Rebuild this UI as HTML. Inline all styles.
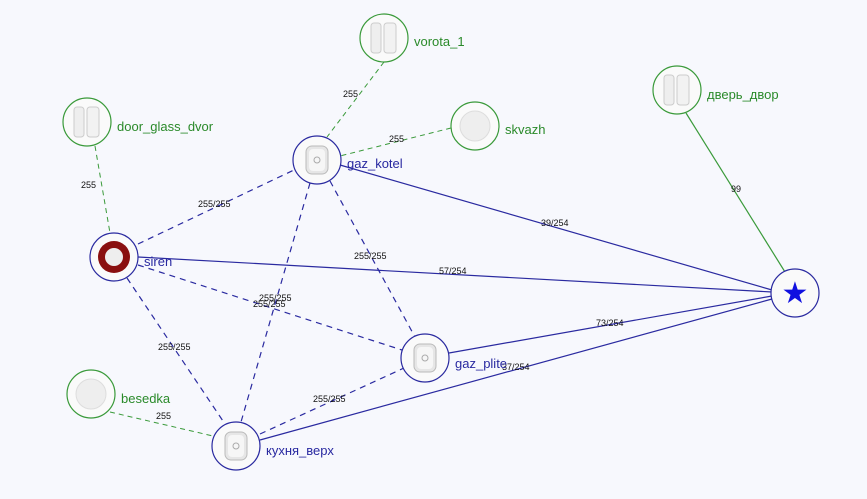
<!DOCTYPE html>
<html><head><meta charset="utf-8"><style>
html,body{margin:0;padding:0;background:#f7f8fd;}
svg{display:block;font-family:"Liberation Sans","DejaVu Sans",sans-serif;}
.g{fill:#2a8a2a;font-size:13px}
.b{fill:#2828a0;font-size:13px}
.l{fill:#111;font-size:9px}
</style></head><body>
<svg width="867" height="499" viewBox="0 0 867 499" xmlns="http://www.w3.org/2000/svg">
<defs>
<g id="sen"><rect x="-11" y="-14" width="22" height="28" rx="6" fill="#e6e6e6" stroke="#bbb"/><rect x="-8" y="-11" width="16" height="22" rx="4" fill="#f6f6f6"/><circle r="3" fill="none" stroke="#aaa"/></g>
<g id="door"><rect x="-13" y="-15" width="10" height="30" rx="3" fill="#eee" stroke="#ccc"/><rect x="0" y="-15" width="12" height="30" rx="3" fill="#f2f2f2" stroke="#ccc"/></g>
</defs>
<!-- green dashed -->
<g stroke="#3a9a3a" stroke-width="1" stroke-dasharray="5,4">
<line x1="384" y1="62" x2="327" y2="137"/>
<line x1="451" y1="128" x2="340" y2="156"/>
<line x1="95" y1="146" x2="110" y2="233"/>
<line x1="110" y1="412" x2="213" y2="436"/>
</g>
<line x1="686" y1="113" x2="785" y2="272" stroke="#3a9a3a" stroke-width="1.2"/>
<!-- blue solid -->
<g stroke="#2a2aa0" stroke-width="1.2">
<line x1="340" y1="165" x2="772" y2="290"/>
<line x1="138" y1="257" x2="772" y2="292"/>
<line x1="449" y1="353" x2="772" y2="296"/>
<line x1="260" y1="440" x2="772" y2="299"/>
</g>
<!-- blue dashed -->
<g stroke="#2a2aa0" stroke-width="1.2" stroke-dasharray="6,5">
<line x1="138" y1="244" x2="294" y2="170"/>
<line x1="310" y1="183" x2="241" y2="422"/>
<line x1="330" y1="181" x2="415" y2="337"/>
<line x1="138" y1="265" x2="402" y2="350"/>
<line x1="127" y1="278" x2="225" y2="424"/>
<line x1="260" y1="434" x2="404" y2="368"/>
</g>
<!-- labels -->
<g class="l">
<text x="343" y="97">255</text><text x="389" y="142">255</text><text x="81" y="188">255</text>
<text x="156" y="419">255</text><text x="731" y="192">99</text>
<text x="198" y="207">255/255</text><text x="541" y="226">39/254</text>
<text x="354" y="259">255/255</text><text x="439" y="274">57/254</text>
<text x="259" y="301">255/255</text><text x="253" y="307">255/255</text>
<text x="596" y="326">73/254</text><text x="158" y="350">255/255</text>
<text x="313" y="402">255/255</text><text x="502" y="370">37/254</text>
</g>
<!-- nodes -->
<g fill="#fafafa" stroke="#3a9a3a" stroke-width="1.2">
<circle cx="384" cy="38" r="24"/><circle cx="475" cy="126" r="24"/><circle cx="677" cy="90" r="24"/>
<circle cx="87" cy="122" r="24"/><circle cx="91" cy="394" r="24"/>
</g>
<use href="#door" x="384" y="38"/><use href="#door" x="677" y="90"/><use href="#door" x="87" y="122"/>
<circle cx="475" cy="126" r="15" fill="#eee" stroke="#ddd"/><circle cx="91" cy="394" r="15" fill="#eee" stroke="#ddd"/>
<g fill="#fafafa" stroke="#2a2aa0" stroke-width="1.2">
<circle cx="317" cy="160" r="24"/><circle cx="114" cy="257" r="24"/><circle cx="795" cy="293" r="24"/>
<circle cx="425" cy="358" r="24"/><circle cx="236" cy="446" r="24"/>
</g>
<use href="#sen" x="317" y="160"/><use href="#sen" x="425" y="358"/><use href="#sen" x="236" y="446"/>
<circle cx="114" cy="257" r="16" fill="#8a1010"/><circle cx="114" cy="257" r="9" fill="#eee"/>
<text x="795" y="303" font-size="30" fill="#1010e0" text-anchor="middle">★</text>
<text class="g" x="414" y="46">vorota_1</text><text class="g" x="505" y="134">skvazh</text>
<text class="g" x="707" y="99">дверь_двор</text><text class="g" x="117" y="131">door_glass_dvor</text>
<text class="g" x="121" y="403">besedka</text>
<text class="b" x="347" y="168">gaz_kotel</text><text class="b" x="144" y="266">siren</text>
<text class="b" x="455" y="368">gaz_plite</text><text class="b" x="266" y="455">кухня_верх</text>
</svg>
</body></html>
